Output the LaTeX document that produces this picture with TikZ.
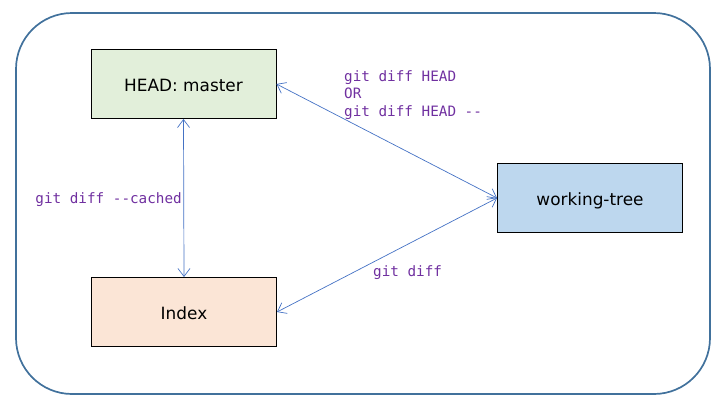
\documentclass[tikz,border=0pt]{standalone}
\usepackage{fontspec}
\setmainfont{DejaVu Sans}
\newfontfamily\gitfont{DejaVu Sans Mono}
\usepackage{tikz}
\usetikzlibrary{arrows.meta}

\definecolor{frameblue}{HTML}{41719C}
\definecolor{linkblue}{HTML}{4472C4}
\definecolor{cmdpurple}{HTML}{7030A0}
\definecolor{headfill}{HTML}{E2EFDA}
\definecolor{treefill}{HTML}{BDD7EE}
\definecolor{indexfill}{HTML}{FBE5D6}

\begin{document}
\begin{tikzpicture}[x=1pt, y=-1pt,
                    area/.style = {shape=rectangle, draw, line width=0.9pt,
                                   minimum width=185pt, minimum height=69pt,
                                   text height=15.3pt, text depth=0pt,
                                   font=\fontsize{16.9}{20}\selectfont},
                    link/.style = {draw=linkblue, line width=0.7pt,
                                   {Straight Barb[length=8pt, width=12pt]}-{Straight Barb[length=8pt, width=12pt]}},
                    cmd/.style = {text=cmdpurple, inner sep=0pt,
                                  font=\gitfont\fontsize{14.3}{17.5}\selectfont}]

  \useasboundingbox (0,0) rectangle (722,408);
  \draw[frameblue, line width=1.7pt, rounded corners=56pt] (16,13) rectangle (710,394);

  \node[area, fill=headfill] (head) at (183.5,84) {HEAD: master};
  \node[area, fill=treefill] (tree) at (590,198) {working-tree};
  \node[area, fill=indexfill] (index) at (184,312) {Index};

  \draw[link] (head.south) -- (index.north);
  \draw[link] (head.east) -- (tree.west);
  \draw[link] (index.east) -- (tree.west);

  \node[cmd, anchor=east] (cached) at (182,200) {git diff --cached};
  \node[cmd, anchor=north west, align=left] (headcmd) at (344,70) {git diff HEAD\\OR\\git diff HEAD --};
  \node[cmd, anchor=west] (plain) at (373,273) {git diff};
\end{tikzpicture}
\end{document}
